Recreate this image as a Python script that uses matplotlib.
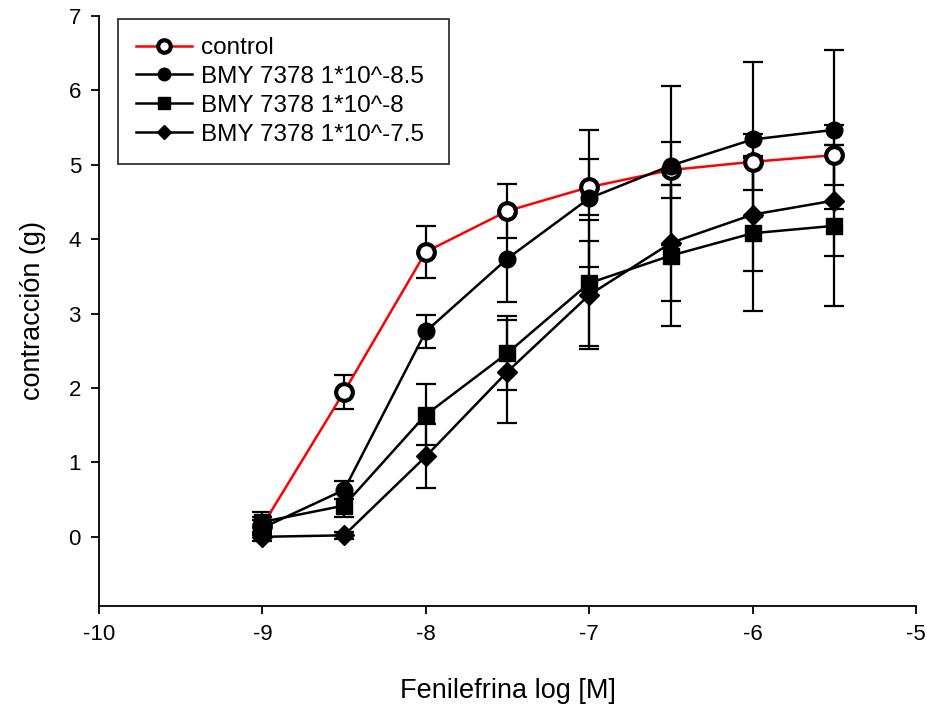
import matplotlib
matplotlib.use("Agg")
import matplotlib.pyplot as plt

plt.rcParams["font.family"] = ["Liberation Sans", "DejaVu Sans"]
plt.rcParams["axes.unicode_minus"] = False

# log concentration of phenylephrine
dose = [-9, -8.5, -8, -7.5, -7, -6.5, -6, -5.5]

control = [0.15, 1.95, 3.83, 4.38, 4.70, 4.93, 5.04, 5.13]
control_err = [0.12, 0.23, 0.35, 0.36, 0.38, 0.37, 0.38, 0.40]

bmy_85 = [0.12, 0.63, 2.76, 3.74, 4.55, 4.99, 5.34, 5.47]
bmy_85_err = [0.10, 0.12, 0.22, 0.58, 0.92, 1.07, 1.04, 1.07]

bmy_8 = [0.20, 0.42, 1.64, 2.47, 3.41, 3.78, 4.08, 4.18]
bmy_8_err = [0.13, 0.15, 0.41, 0.50, 0.85, 0.95, 1.04, 1.08]

bmy_75 = [0.00, 0.02, 1.08, 2.22, 3.25, 3.95, 4.33, 4.52]
bmy_75_err = [0.05, 0.05, 0.43, 0.69, 0.73, 0.78, 0.76, 0.75]

series = [
    ("control", control, control_err, "o", "red", "white"),
    ("BMY 7378 1*10^-8.5", bmy_85, bmy_85_err, "o", "black", "black"),
    ("BMY 7378 1*10^-8", bmy_8, bmy_8_err, "s", "black", "black"),
    ("BMY 7378 1*10^-7.5", bmy_75, bmy_75_err, "D", "black", "black"),
]

fig = plt.figure(figsize=(9.27, 7.04), dpi=100)
ax = fig.add_axes([0.1068, 0.1392, 0.8813, 0.8381])

handles = []
for label, y, err, marker, lc, fc in series:
    ax.errorbar(dose, y, yerr=err, fmt="none", ecolor="black",
                elinewidth=1.6, capsize=7, capthick=1.6, zorder=2)
    ms = 12
    if marker == "D":
        ms = 10
    elif marker == "s":
        ms = 11
    h, = ax.plot(dose, y, color=lc, linewidth=1.8, marker=marker,
                 markersize=ms, markerfacecolor=fc, markeredgecolor="black",
                 markeredgewidth=3 if fc == "white" else 1, label=label,
                 zorder=3)
    handles.append(h)

ax.set_xlim(-10, -5)
ax.set_ylim(-0.93, 7)
ax.set_xticks([-10, -9, -8, -7, -6, -5])
ax.set_yticks([0, 1, 2, 3, 4, 5, 6, 7])
ax.spines["top"].set_visible(False)
ax.spines["right"].set_visible(False)
ax.spines["left"].set_linewidth(1.3)
ax.spines["bottom"].set_linewidth(1.3)
ax.tick_params(direction="out", length=6, width=1.3, labelsize=16)
ax.tick_params(axis="x", pad=7)
ax.tick_params(axis="y", pad=7)

ax.set_xlabel("Fenilefrina log [M]", fontsize=19.5, labelpad=24)
ax.set_ylabel("contracción (g)", fontsize=19.5, labelpad=16)

leg = ax.legend(handles=handles, loc="upper left",
                bbox_to_anchor=(0.0233, 0.995, 0.405, 0.0), mode="expand",
                borderaxespad=0, fontsize=17.5, frameon=True, fancybox=False,
                edgecolor="black", handlelength=2.3, handletextpad=0.35,
                labelspacing=0.28, borderpad=0.75, markerscale=0.75)
leg.get_frame().set_linewidth(1.3)

fig.savefig("out.png", dpi=100)
